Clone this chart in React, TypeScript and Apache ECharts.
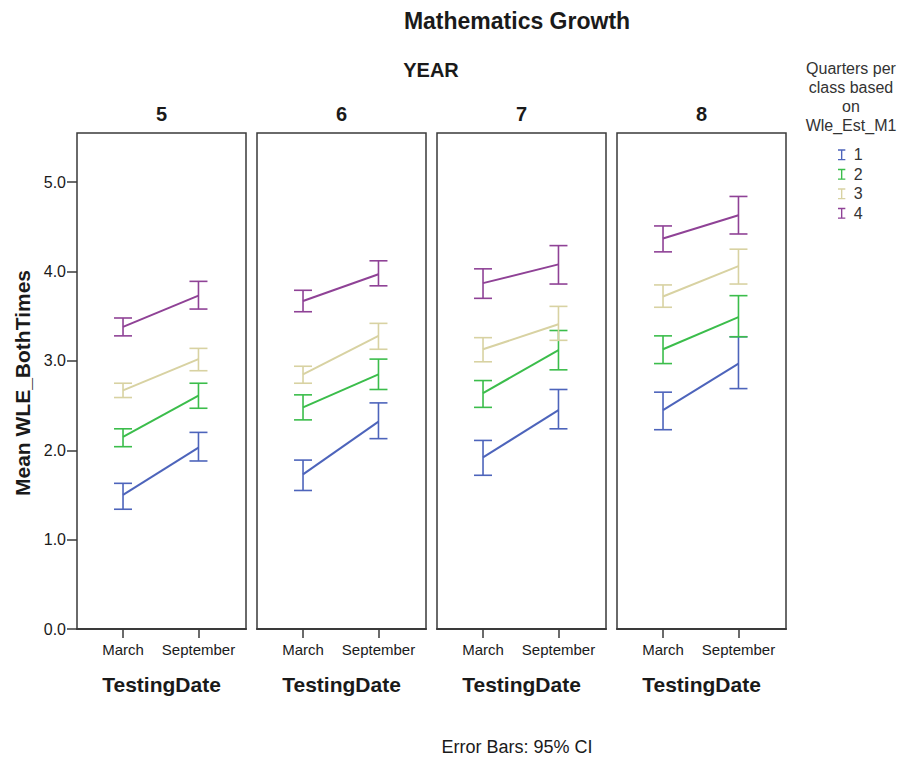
import React, { useEffect, useRef } from "react";
import * as echarts from "echarts";

const DATES = ["March", "September"];
const YEARS = ["5", "6", "7", "8"];
const GROUPS = ["1", "2", "3", "4"];
const Y_TICKS = [0, 1, 2, 3, 4, 5];

// means per year: [March, September]
const g1Mean = [[1.5, 2.03], [1.73, 2.32], [1.92, 2.45], [2.45, 2.97]];
const g1Low = [[1.34, 1.88], [1.55, 2.13], [1.72, 2.24], [2.23, 2.69]];
const g1High = [[1.63, 2.2], [1.89, 2.53], [2.11, 2.68], [2.65, 3.27]];

const g2Mean = [[2.15, 2.61], [2.48, 2.85], [2.64, 3.12], [3.13, 3.49]];
const g2Low = [[2.04, 2.47], [2.34, 2.68], [2.48, 2.9], [2.97, 3.27]];
const g2High = [[2.24, 2.75], [2.62, 3.02], [2.78, 3.34], [3.28, 3.73]];

const g3Mean = [[2.67, 3.02], [2.85, 3.28], [3.13, 3.41], [3.72, 4.06]];
const g3Low = [[2.59, 2.89], [2.75, 3.13], [2.99, 3.23], [3.6, 3.86]];
const g3High = [[2.75, 3.14], [2.94, 3.42], [3.26, 3.61], [3.85, 4.25]];

const g4Mean = [[3.38, 3.73], [3.67, 3.97], [3.87, 4.08], [4.37, 4.63]];
const g4Low = [[3.28, 3.58], [3.55, 3.84], [3.7, 3.86], [4.22, 4.42]];
const g4High = [[3.48, 3.89], [3.79, 4.12], [4.03, 4.29], [4.51, 4.84]];

const MEANS = [g1Mean, g2Mean, g3Mean, g4Mean];
const LOWS = [g1Low, g2Low, g3Low, g4Low];
const HIGHS = [g1High, g2High, g3High, g4High];

const COLORS = ["#4d64bb", "#3bbd4b", "#d8d2a2", "#8f4296"];
const FONT = "'Liberation Sans', Arial, Helvetica, sans-serif";
const TEXT = "#1a1a1a";

const PANEL_LEFT = 77;
const PANEL_STEP = 180;
const PANEL_W = 169;
const PANEL_TOP = 133;
const PANEL_H = 496;

export default function App() {
  const ref = useRef<HTMLDivElement>(null);

  useEffect(() => {
    if (!ref.current) return;
    const chart = echarts.init(ref.current, null, { renderer: "svg" });

    const grids: any[] = [];
    const xAxes: any[] = [];
    const yAxes: any[] = [];
    const series: any[] = [];
    const graphics: any[] = [];

    YEARS.forEach((yr, i) => {
      const left = PANEL_LEFT + PANEL_STEP * i;
      grids.push({
        left,
        top: PANEL_TOP,
        width: PANEL_W,
        height: PANEL_H,
        show: true,
        borderColor: "#3a3a3a",
        borderWidth: 1.5,
        backgroundColor: "#fff",
      });
      xAxes.push({
        type: "value",
        gridIndex: i,
        min: -0.61,
        max: 1.63,
        splitLine: { show: false },
        axisLine: { show: true, onZero: false, lineStyle: { color: "#3a3a3a", width: 2 } },
        axisTick: {
          show: true,
          customValues: [0, 1],
          length: 9,
          lineStyle: { color: "#3a3a3a", width: 1.5 },
        },
        axisLabel: {
          customValues: [0, 1],
          formatter: (v: number) => DATES[Math.round(v)] ?? "",
          margin: 13,
          fontSize: 15,
          fontFamily: FONT,
          color: TEXT,
        },
        name: "TestingDate",
        nameLocation: "middle",
        nameGap: 45,
        nameTextStyle: { fontSize: 21, fontWeight: "bold", fontFamily: FONT, color: TEXT },
      });
      yAxes.push({
        type: "value",
        gridIndex: i,
        min: 0,
        max: 5.55,
        interval: 1,
        position: "left",
        splitLine: { show: false },
        axisLine: { show: false, onZero: false },
        axisTick: {
          show: i === 0,
          length: 10,
          customValues: Y_TICKS,
          lineStyle: { color: "#3a3a3a", width: 1.5 },
        },
        axisLabel: {
          show: i === 0,
          customValues: Y_TICKS,
          formatter: (v: number) => v.toFixed(1),
          margin: 11,
          fontSize: 16,
          fontFamily: FONT,
          color: TEXT,
        },
      });

      graphics.push({
        type: "text",
        x: left + PANEL_W / 2,
        y: 114,
        style: {
          text: yr,
          align: "center",
          verticalAlign: "middle",
          font: `bold 20px ${FONT}`,
          fill: TEXT,
        },
      });

      GROUPS.forEach((g, gi) => {
        const color = COLORS[gi];
        series.push({
          type: "line",
          name: g,
          xAxisIndex: i,
          yAxisIndex: i,
          symbol: "none",
          silent: true,
          z: 3,
          itemStyle: { color },
          lineStyle: { color, width: 2 },
          data: DATES.map((_, di) => [di, MEANS[gi][i][di]]),
        });
        series.push({
          type: "custom",
          name: g,
          xAxisIndex: i,
          yAxisIndex: i,
          silent: true,
          z: 2,
          itemStyle: { color },
          encode: { x: 0, y: [1, 2] },
          data: DATES.map((_, di) => [di, LOWS[gi][i][di], HIGHS[gi][i][di]]),
          renderItem: (params: any, api: any) => {
            const x = api.value(0);
            const pLo = api.coord([x, api.value(1)]);
            const pHi = api.coord([x, api.value(2)]);
            const w = 9;
            const style = { stroke: color, lineWidth: 1.6, fill: "none" };
            return {
              type: "group",
              children: [
                { type: "line", shape: { x1: pLo[0], y1: pLo[1], x2: pHi[0], y2: pHi[1] }, style },
                { type: "line", shape: { x1: pLo[0] - w, y1: pLo[1], x2: pLo[0] + w, y2: pLo[1] }, style },
                { type: "line", shape: { x1: pHi[0] - w, y1: pHi[1], x2: pHi[0] + w, y2: pHi[1] }, style },
              ],
            };
          },
        });
      });
    });

    const legendTitle = ["Quarters per", "class based", "on", "Wle_Est_M1"];
    legendTitle.forEach((t, k) => {
      graphics.push({
        type: "text",
        x: 851,
        y: 68 + k * 19,
        style: {
          text: t,
          align: "center",
          verticalAlign: "middle",
          font: `16px ${FONT}`,
          fill: "#333",
        },
      });
    });

    graphics.push(
      {
        type: "text",
        x: 517,
        y: 21,
        style: {
          text: "Mathematics Growth",
          align: "center",
          verticalAlign: "middle",
          font: `bold 23px ${FONT}`,
          fill: TEXT,
        },
      },
      {
        type: "text",
        x: 431,
        y: 70,
        style: {
          text: "YEAR",
          align: "center",
          verticalAlign: "middle",
          font: `bold 20px ${FONT}`,
          fill: TEXT,
        },
      },
      {
        type: "text",
        x: 22,
        y: 383,
        rotation: Math.PI / 2,
        style: {
          text: "Mean WLE_BothTimes",
          align: "center",
          verticalAlign: "middle",
          font: `bold 21px ${FONT}`,
          fill: TEXT,
        },
      },
      {
        type: "text",
        x: 517,
        y: 747,
        style: {
          text: "Error Bars: 95% CI",
          align: "center",
          verticalAlign: "middle",
          font: `18px ${FONT}`,
          fill: TEXT,
        },
      }
    );

    chart.setOption({
      animation: false,
      backgroundColor: "#fff",
      grid: grids,
      xAxis: xAxes,
      yAxis: yAxes,
      series,
      graphic: graphics,
      legend: {
        data: GROUPS,
        orient: "vertical",
        left: 838,
        top: 146,
        padding: 0,
        icon: "path://M0,0H8V1.5H4.75V10.5H8V12H0V10.5H3.25V1.5H0Z",
        itemWidth: 8,
        itemHeight: 11,
        itemGap: 2,
        selectedMode: false,
        textStyle: {
          fontSize: 16,
          lineHeight: 17.5,
          fontFamily: FONT,
          color: "#333",
          padding: [0, 0, 0, 3],
        },
      },
    });

    return () => chart.dispose();
  }, []);

  return (
    <div
      ref={ref}
      style={{ position: "fixed", left: 0, top: 0, width: 907, height: 758, background: "#fff" }}
    />
  );
}
